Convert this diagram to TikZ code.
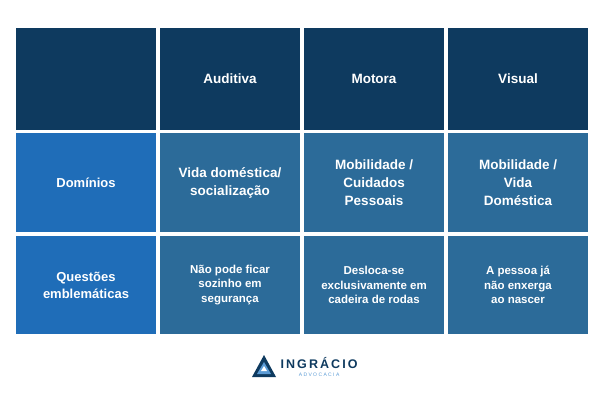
\documentclass[tikz,border=0pt]{standalone}
\usepackage{fontspec}
\setmainfont{Liberation Sans}
\usetikzlibrary{positioning}
\definecolor{navy}{HTML}{0E3A5F}
\definecolor{rowblue}{HTML}{1F6DB8}
\definecolor{cellblue}{HTML}{2C6B99}
\definecolor{logoblue}{HTML}{5B9BD5}
\begin{document}
\begin{tikzpicture}[x=1pt, y=1pt,
    head/.style={rectangle, fill=navy, minimum width=140pt, minimum height=102pt, align=center, text=white, font=\bfseries\fontsize{13.5}{16}\selectfont},
    side/.style={rectangle, fill=rowblue, minimum width=140pt, minimum height=98pt, align=center, text=white, font=\bfseries\fontsize{13}{17}\selectfont},
    cell/.style={rectangle, fill=cellblue, minimum width=140pt, minimum height=98pt, align=center, text=white, font=\bfseries\fontsize{13.5}{18}\selectfont},
    small/.style={cell, font=\bfseries\fontsize{11.5}{14.5}\selectfont}
]
\useasboundingbox (0,0) rectangle (601,407);

% Header row
\node[head] (corner) at (86,328) {};
\node[head] (auditiva) at (230,328) {Auditiva};
\node[head] (motora) at (374,328) {Motora};
\node[head] (visual) at (518,328) {Visual};

% Domains
\node[side] (dominios) at (86,224.5) {Domínios};
\node[cell] (dom_a) at (230,224.5) {Vida doméstica/\\socialização};
\node[cell] (dom_m) at (374,224.5) {Mobilidade /\\Cuidados\\Pessoais};
\node[cell] (dom_v) at (518,224.5) {Mobilidade /\\Vida\\Doméstica};

% Questions
\node[side] (questoes) at (86,122) {Questões\\emblemáticas};
\node[small] (q_a) at (230,122) {Não pode ficar\\sozinho em\\segurança};
\node[small] (q_m) at (374,122) {Desloca-se\\exclusivamente em\\cadeira de rodas};
\node[small] (q_v) at (518,122) {A pessoa já\\não enxerga\\ao nascer};

% Logo
\fill[navy] (252,30) -- (264,52) -- (276,30) -- cycle;
\fill[logoblue] (257,33) -- (264,45) -- (271,33) -- cycle;
\fill[white] (261,36) -- (264,41) -- (267,36) -- cycle;
\node[text=navy, font=\bfseries\fontsize{12.5}{12}\selectfont, anchor=west] (brand) at (277,44) {I\,N\,G\,R\,Á\,C\,I\,O};
\node[text=logoblue, font=\fontsize{5}{5}\selectfont, anchor=north, below=-3pt of brand] (sub) {A\ D\ V\ O\ C\ A\ C\ I\ A};
\end{tikzpicture}
\end{document}
